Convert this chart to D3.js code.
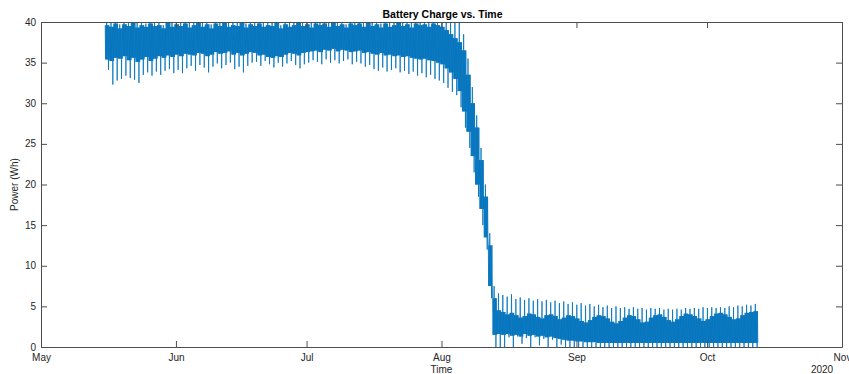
<!DOCTYPE html>
<html>
<head>
<meta charset="utf-8">
<script src="https://cdn.jsdelivr.net/npm/d3@7"></script>
<style>
  html, body { margin: 0; padding: 0; background: #fff; }
  svg { display: block; font-family: "Liberation Sans", Arial, Helvetica, sans-serif; }
</style>
</head>
<body>
<svg id="chart" width="849" height="374"></svg>
<script>
// ---- data ----
const titleText = "Battery Charge vs. Time";
const xLabelText = "Time";
const yLabelText = "Power (Wh)";
const yearText = "2020";
const xDomain = ["2020-05-01", "2020-11-01"];
const yTicks = [0, 5, 10, 15, 20, 25, 30, 35, 40];
const seriesStart = "2020-05-15T18:00:00";
// per-day shape of the battery charge: daily peak, upper / lower edge of dense band, daily trough
const peakVals = [
41.2,40.6,41.8,39.7,41.5,40.9,42.0,40.3,41.4,39.8,41.7,40.7,41.1,39.6,41.9,40.4,41.3,40.8,41.6,39.9,
41.0,41.8,40.5,41.2,39.7,41.5,40.9,41.7,40.2,41.3,40.6,41.9,39.8,41.4,40.7,41.6,40.1,41.2,40.8,41.8,
39.6,41.5,40.4,41.1,41.9,40.6,41.3,39.9,41.7,40.8,41.4,40.2,41.8,40.5,41.2,39.7,41.6,40.9,41.5,40.3,
41.9,40.7,41.3,39.8,41.6,40.4,41.1,41.8,40.6,41.4,40.0,41.7,40.8,41.2,40.5,41.6,40.9,41.3,40.7,40.9,
40.5,40.0,38.5,35.5,32.0,28.5,24.5,20.0,14.0,7.5,6.6,
6.4,6.2,6.5,5.9,6.1,5.8,6.0,5.7,5.9,5.6,5.8,5.5,5.7,5.4,5.6,5.3,5.5,5.2,5.4,5.1,
5.3,5.0,5.2,4.9,5.1,4.8,5.0,4.8,4.9,4.7,4.9,4.7,4.8,4.6,4.8,4.7,4.8,4.6,4.7,4.6,
4.7,4.6,4.8,4.7,4.8,4.7,4.9,4.8,4.9,4.8,4.9,4.8,5.0,4.9,5.1,5.0,5.2,5.1,5.3];
const coreHighVals = [
39.6,39.4,39.8,39.2,39.7,39.5,39.9,39.3,39.6,39.4,39.8,39.5,39.6,39.2,39.9,39.4,39.7,39.5,39.8,39.3,
39.6,39.9,39.4,39.7,39.2,39.8,39.5,39.9,39.4,39.6,39.5,39.9,39.3,39.7,39.5,39.8,39.4,39.6,39.5,39.9,
39.2,39.7,39.4,39.6,39.9,39.5,39.7,39.3,39.8,39.6,39.8,39.4,39.9,39.5,39.7,39.3,39.8,39.6,39.8,39.4,
39.9,39.5,39.7,39.3,39.8,39.4,39.6,39.9,39.5,39.7,39.3,39.8,39.6,39.7,39.4,39.8,39.6,39.4,39.0,38.5,
38.0,37.5,36.5,33.5,30.0,27.0,23.0,18.5,12.5,6.0,4.5,
4.3,4.0,4.2,3.9,3.6,3.8,4.1,4.0,3.7,3.5,3.9,4.0,3.8,3.4,3.6,3.9,3.8,3.5,3.2,3.0,
3.3,3.7,3.9,3.8,3.5,3.1,2.9,3.2,3.6,3.9,3.8,3.4,3.0,3.1,3.6,3.9,4.0,3.7,3.3,3.1,
3.4,3.8,4.1,4.0,3.8,3.5,3.2,3.4,3.8,4.1,4.2,4.0,3.7,3.4,3.5,3.9,4.2,4.3,4.4];
const coreLowVals = [
35.4,35.2,35.6,35.5,35.8,35.3,35.6,35.1,35.4,35.7,35.2,35.5,35.8,35.6,35.9,35.7,36.0,35.8,36.1,36.0,
35.9,36.2,36.1,35.8,36.0,36.3,36.1,36.2,36.4,36.0,36.2,35.9,36.1,36.3,36.2,35.9,36.0,35.7,35.6,35.8,
35.7,36.0,36.2,36.1,35.9,36.2,36.3,36.4,36.5,36.3,36.6,36.5,36.7,36.4,36.6,36.5,36.3,36.4,36.5,36.2,
36.3,36.1,36.0,36.2,35.9,36.0,35.8,35.9,35.7,35.8,35.6,35.5,35.4,35.5,35.3,35.2,35.0,34.8,34.3,33.8,
33.0,31.5,29.0,26.5,23.5,20.0,17.0,13.5,7.5,1.5,1.6,
1.5,1.6,1.4,1.5,1.3,1.6,1.4,1.5,1.3,1.4,1.2,1.3,1.1,1.0,0.9,0.8,0.8,0.7,0.7,0.6,
0.6,0.6,0.5,0.5,0.5,0.5,0.5,0.5,0.5,0.5,0.5,0.5,0.5,0.5,0.5,0.5,0.5,0.5,0.5,0.5,
0.5,0.5,0.5,0.5,0.5,0.5,0.5,0.5,0.5,0.5,0.5,0.5,0.5,0.5,0.5,0.5,0.5,0.5,0.5];
const troughVals = [
34.1,32.3,32.8,33.0,33.4,33.1,32.9,32.5,33.5,33.8,33.4,33.9,33.5,34.0,34.2,33.7,34.1,33.7,34.3,34.6,
34.0,34.7,34.4,33.8,34.5,34.9,34.3,34.7,35.0,34.2,34.5,33.8,34.6,35.0,35.1,34.6,35.2,34.8,34.4,35.0,
34.5,34.9,35.2,34.7,34.3,34.8,35.0,35.3,35.1,34.8,35.4,35.0,35.3,34.9,35.2,35.4,34.8,35.1,34.9,34.5,
34.7,34.2,34.0,34.4,33.9,34.1,34.3,33.8,34.0,33.6,33.9,33.4,33.7,33.2,33.5,33.0,32.8,32.5,31.9,31.4,
31.0,29.5,27.0,24.5,21.5,18.5,15.0,12.0,6.0,0.0,0.0,
0.0,1.2,0.0,1.3,0.4,1.1,0.0,1.2,0.2,1.0,0.0,0.9,0.0,0.3,0.0,0.0,0.0,0.0,0.0,0.0,
0.0,0.0,0.0,0.0,0.0,0.0,0.0,0.0,0.0,0.0,0.0,0.0,0.0,0.0,0.0,0.0,0.0,0.0,0.0,0.0,
0.0,0.0,0.0,0.0,0.0,0.0,0.0,0.0,0.0,0.0,0.0,0.0,0.0,0.0,0.0,0.0,0.0,0.0,0.0];

// ---- build series from the daily arrays ----
const DAY = 86400000;
const t0 = new Date(seriesStart).getTime();
const series = [];
peakVals.forEach((p, d) => {
  const hi = coreHighVals[d], lo = coreLowVals[d], tr = troughVals[d];
  const day = [hi, lo, hi, lo, p, lo, hi, lo, hi, tr, hi, lo];
  day.forEach((v, k) => series.push({ t: new Date(t0 + (d + k / day.length) * DAY), v }));
});

// ---- layout ----
const svg = d3.select("#chart");
const L = 41, R = 842, T = 22, B = 347;
const axisColor = "#4d4d4d", textColor = "#262626";

const x = d3.scaleTime().domain(xDomain.map(s => new Date(s + "T00:00:00"))).range([L, R]);
const y = d3.scaleLinear().domain([0, 40]).range([B, T]);

svg.append("defs").append("clipPath").attr("id", "clip")
  .append("rect").attr("x", L).attr("y", T).attr("width", R - L).attr("height", B - T);

const line = d3.line().x(d => x(d.t)).y(d => y(d.v));
svg.append("path").datum(series)
  .attr("clip-path", "url(#clip)")
  .attr("fill", "none").attr("stroke", "#0072BD").attr("stroke-width", 0.8)
  .attr("d", line);

// axes
const monthTicks = x.ticks(d3.timeMonth.every(1));
const fmt = d3.timeFormat("%b");

const gx = svg.append("g").attr("transform", `translate(0,${B})`)
  .call(d3.axisBottom(x).tickValues(monthTicks).tickFormat(fmt).tickSizeInner(-6).tickSizeOuter(0).tickPadding(7));
const gxTop = svg.append("g").attr("transform", `translate(0,${T})`)
  .call(d3.axisTop(x).tickValues(monthTicks).tickFormat("").tickSizeInner(-6).tickSizeOuter(0));
const gy = svg.append("g").attr("transform", `translate(${L},0)`)
  .call(d3.axisLeft(y).tickValues(yTicks).tickSizeInner(-6).tickSizeOuter(0).tickPadding(5));
const gyR = svg.append("g").attr("transform", `translate(${R},0)`)
  .call(d3.axisRight(y).tickValues(yTicks).tickFormat("").tickSizeInner(-6).tickSizeOuter(0));

[gx, gxTop, gy, gyR].forEach(g => {
  g.select(".domain").attr("stroke", axisColor).attr("stroke-width", 1);
  g.selectAll(".tick line").attr("stroke", axisColor).attr("stroke-width", 1);
  g.selectAll(".tick text").attr("fill", textColor).style("font-size", "10px")
    .style("font-family", '"Liberation Sans", Arial, Helvetica, sans-serif');
});
gy.selectAll(".tick text").attr("dy", "0.3em");

// title & labels
svg.append("text").attr("x", (L + R) / 2 + 1).attr("y", 18).attr("text-anchor", "middle")
  .attr("fill", "#000").style("font-size", "10.5px").style("font-weight", "bold").text(titleText);
svg.append("text").attr("x", (L + R) / 2).attr("y", 373).attr("text-anchor", "middle")
  .attr("fill", textColor).style("font-size", "10px").text(xLabelText);
svg.append("text").attr("transform", `translate(18,${(T + B) / 2}) rotate(-90)`).attr("text-anchor", "middle")
  .attr("fill", textColor).style("font-size", "10px").text(yLabelText);
svg.append("text").attr("x", 822).attr("y", 373).attr("text-anchor", "middle")
  .attr("fill", textColor).style("font-size", "10px").text(yearText);
</script>
</body>
</html>
